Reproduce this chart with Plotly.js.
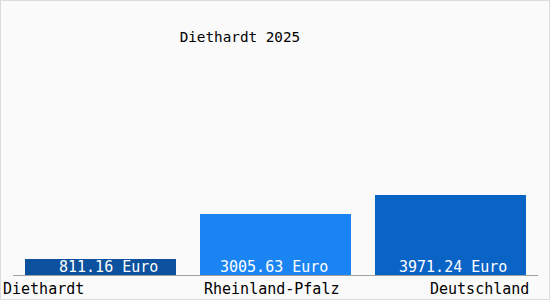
<!DOCTYPE html>
<html><head><meta charset="utf-8">
<script src="https://cdn.plot.ly/plotly-3.0.1.min.js"></script>
<style>
html,body{margin:0;padding:0;background:#fff;}
#chart{width:548px;height:298px;border:1px solid #dcdcdc;}
</style></head>
<body><div id="chart"></div>
<script>
const categories = ["Diethardt", "Rheinland-Pfalz", "Deutschland"];
const values = [811.16, 3005.63, 3971.24];
const valueLabels = ["811.16 Euro", "3005.63 Euro", "3971.24 Euro"];
const barColors = ["#0b519d", "#1a84f2", "#0a64c6"];
const titleText = "Diethardt 2025";

const font = "DejaVu Sans Mono, monospace";
const trace = {
  type: "bar", x: categories, y: values,
  marker: {color: barColors, line: {width: 0}},
  width: 0.863, hoverinfo: "none"
};
const anchors = ["left", "center", "right"];
const shifts = [-100, -4, 80];
const valShifts = [8, -2, 2.5];
const annotations = categories.map((c, i) => ({
  x: c, xref: "x", y: 0, yref: "paper", yanchor: "top", yshift: -3,
  xanchor: anchors[i], xshift: shifts[i], showarrow: false, text: c,
  font: {family: font, size: 15, color: "#000"}
})).concat(categories.map((c, i) => ({
  x: c, xref: "x", y: 0, yref: "y", yanchor: "bottom", yshift: -3,
  xanchor: "center", xshift: valShifts[i], showarrow: false, text: valueLabels[i],
  font: {family: font, size: 15, color: "#fff"}
})));
const layout = {
  width: 548, height: 298,
  margin: {l: 12, r: 11, t: 40, b: 24},
  paper_bgcolor: "#fafafa", plot_bgcolor: "#fafafa",
  title: {text: titleText, x: 0.436, xanchor: "center", y: 0.88, yanchor: "middle",
          font: {family: font, size: 14.3, color: "#000"}},
  xaxis: {type: "category", range: [-0.5, 2.5], showticklabels: false, ticks: "",
          showline: true, linecolor: "#a0a0a0", linewidth: 1, showgrid: false, zeroline: false, fixedrange: true},
  yaxis: {range: [0, 11616], visible: false, showgrid: false, zeroline: false, fixedrange: true},
  showlegend: false, bargap: 0,
  annotations: annotations
};
Plotly.newPlot("chart", [trace], layout, {displayModeBar: false, staticPlot: true});
</script></body></html>
